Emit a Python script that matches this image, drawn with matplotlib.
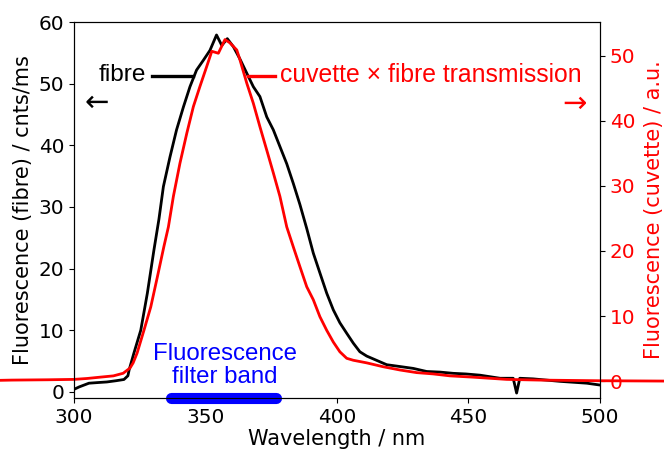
import numpy as np
import matplotlib
matplotlib.use("Agg")
import matplotlib.pyplot as plt

# fibre spectrum (left axis, cnts/ms)
fibre_wl = [300, 302, 305.7, 309, 312.5, 316, 319, 320.5, 321, 322.8, 325.4, 327.9,
            330.4, 332.3, 334, 336.5, 339, 341.6, 344.1, 346.6, 349.2, 351.7, 354.2,
            356.2, 358.3, 360.6, 363.1, 365.7, 368.2, 370.7, 373.3, 375.8, 378.3,
            380.9, 383.4, 385.9, 388.5, 391, 393.5, 396.1, 398.6, 401.1, 403.7,
            406.2, 408.7, 411.3, 415.1, 418.9, 424, 429, 434.1, 439.2, 444.2, 449,
            454.4, 462, 467, 468.3, 469.5, 474.6, 484.8, 495, 500]
fibre_val = [0.4, 0.8, 1.4, 1.5, 1.6, 1.8, 2.0, 2.6, 3.6, 6.3, 10, 16,
             23, 28, 33.3, 38.1, 42.5, 46.2, 49.5, 52.2, 53.8, 55.4, 57.9,
             56.2, 57.3, 56.0, 54.0, 51.7, 49.5, 47.9, 44.6, 42.5, 39.8,
             37.0, 33.8, 30.4, 26.5, 22.5, 19.3, 16.0, 13.3, 11.2, 9.5,
             7.9, 6.5, 5.8, 5.1, 4.4, 4.1, 3.8, 3.3, 3.2, 3.0, 2.9,
             2.7, 2.2, 2.2, -0.2, 2.2, 2.1, 1.7, 1.4, 1.1]

# cuvette x fibre transmission (right axis, a.u.)
cuv_wl = [270, 276.3, 290, 300, 305, 309.9, 315, 318.7, 321.3, 322.5, 324, 326.6,
          329.2, 331.7, 334.2, 335.9, 337.8, 340.3, 342.9, 345.4, 347.9, 350.5,
          352.4, 354.9, 357.4, 359.3, 361.9, 363.1, 365.7, 368.2, 370.7, 373.3,
          375.8, 378.3, 380.9, 383.5, 385.9, 388.5, 391, 393.5, 396.1, 398.6,
          401.1, 403.7, 406.2, 411.3, 417.6, 424, 430.3, 436.6, 443, 451.8,
          464.5, 477.2, 500, 525]
cuv_val = [0.1, 0.15, 0.2, 0.26, 0.4, 0.6, 0.8, 1.2, 2.0, 2.8, 4.3, 7.8,
           11.4, 16.0, 20.7, 23.7, 28.4, 33.5, 38.1, 42.2, 45.3, 48.4,
           50.7, 50.4, 52.5, 52.0, 50.9, 49.4, 45.8, 42.7, 39.1, 35.5,
           32.0, 28.4, 23.7, 20.5, 17.6, 14.5, 12.5, 9.9, 7.8, 6.0,
           4.5, 3.5, 3.2, 2.8, 2.2, 1.7, 1.3, 1.1, 0.8, 0.6,
           0.26, 0.15, 0.05, 0.0]

filter_band = [337, 377]

fig = plt.figure(figsize=(6.64, 4.55), dpi=100)
ax = fig.add_axes([0.1114, 0.1253, 0.7922, 0.8263])
ax2 = ax.twinx()

ax.plot(fibre_wl, fibre_val, color="black", lw=2.0)
ax2.plot(cuv_wl, cuv_val, color="red", lw=2.0, clip_on=False)

ax.set_xlim(300, 500)
ax.set_ylim(-1, 60)
ax2.set_ylim(-2.6, 55.2)
ax.set_xticks([300, 350, 400, 450, 500])
ax.set_yticks(np.arange(0, 61, 10))
ax2.set_yticks(np.arange(0, 51, 10))

ax.tick_params(labelsize=14.4)
ax2.tick_params(labelsize=14.4, labelcolor="red")
ax.set_xlabel("Wavelength / nm", fontsize=15, labelpad=2)
ax.set_ylabel("Fluorescence (fibre) / cnts/ms", fontsize=15, labelpad=4)
ax2.set_ylabel("Fluorescence (cuvette) / a.u.", fontsize=15, color="red", labelpad=6)

# labels drawn as annotations
sans = ["Liberation Sans", "DejaVu Sans"]
ax.text(327.4, 51.4, "fibre", fontsize=17.6, family=sans, ha="right", va="center")
ax.plot([329.7, 345.2], [51.2, 51.2], color="black", lw=2.4)
ax.text(378.3, 51.4, "cuvette × fibre transmission", fontsize=17.8, family=sans,
        color="red", ha="left", va="center")
ax.plot([366.2, 376.4], [51.2, 51.2], color="red", lw=2.4)
ax.text(308.6, 46.8, "←", fontsize=21, ha="center", va="center")
ax.text(490.3, 46.7, "→", fontsize=21, ha="center", va="center", color="red")

ax.text(357.4, 4.3, "Fluorescence\nfilter band", fontsize=17.3, family=sans,
        color="blue", ha="center", va="center", linespacing=1.05)
ax.plot(filter_band, [0, 0], color="blue", lw=8, solid_capstyle="round",
        transform=ax.get_xaxis_transform(), clip_on=False, zorder=5)

fig.savefig("out.png", dpi=100)
